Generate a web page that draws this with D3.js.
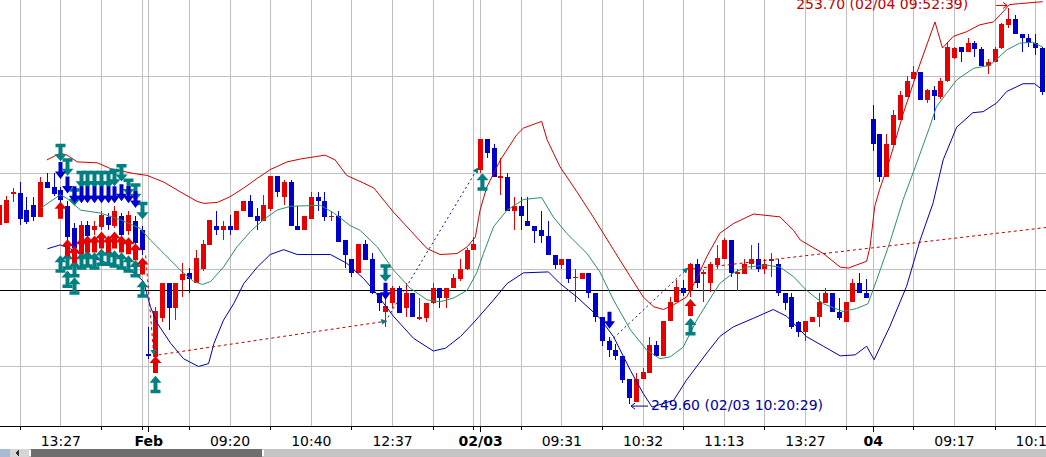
<!DOCTYPE html>
<html>
<head>
<meta charset="utf-8">
<script src="https://cdn.jsdelivr.net/npm/d3@7"></script>
<style>
    body { margin: 0; background: #fff; overflow: hidden; }
    svg { display: block; font-family: "DejaVu Sans", sans-serif; }
</style>
</head>
<body>
<div id="main-container"></div>
<script>
// Candles, one entry per bar (bar 0 is partly off the left edge)
const OPENS = [
    251.46, 251.48, 251.78, 251.79, 251.61, 251.66, 251.54, 251.90, 251.85, 251.82,
    251.65, 251.42, 251.22, 251.46, 251.40, 251.44, 251.54, 251.45, 251.55, 251.39,
    251.50, 251.40, 250.12, 250.09, 250.49, 250.85, 250.60, 250.89, 250.96, 250.85,
    251.00, 251.25, 251.45, 251.40, 251.45, 251.40, 251.60, 251.70, 251.55, 251.50,
    251.62, 251.96, 251.75, 251.90, 251.45, 251.40, 251.52, 251.75, 251.70, 251.54,
    251.55, 251.30, 251.10, 250.96, 251.26, 251.10, 250.75, 250.55, 250.65, 250.80,
    250.60, 250.75, 250.48, 250.49, 250.65, 250.80, 250.70, 250.80, 250.90, 251.00,
    251.20, 252.03, 252.35, 252.25, 251.95, 251.95, 251.60, 251.65, 251.50, 251.45,
    251.40, 251.34, 251.15, 251.04, 251.10, 250.91, 250.90, 250.96, 250.75, 250.50,
    250.25, 250.16, 250.10, 249.86, 249.62, 249.86, 249.92, 250.21, 250.10, 250.46,
    250.66, 250.80, 250.78, 251.05, 250.95, 250.85, 251.04, 251.10, 251.30, 250.95,
    250.95, 251.05, 251.10, 251.00, 251.08, 251.05, 250.75, 250.71, 250.45, 250.35,
    250.45, 250.50, 250.65, 250.75, 250.55, 250.45, 250.66, 250.86, 250.75, 252.55,
    252.40, 251.95, 252.28, 252.54, 252.78, 252.97, 253.04, 252.75, 252.85, 252.78,
    252.95, 253.19, 253.30, 253.25, 253.34, 253.28, 253.10, 253.15, 253.29, 253.53,
    253.59, 253.44, 253.39, 253.34, 253.29
];
const HIGHS = [
    251.70, 251.76, 251.84, 251.90, 251.75, 251.75, 251.95, 252.00, 252.00, 251.85,
    251.70, 251.48, 251.50, 251.50, 251.50, 251.60, 251.58, 251.65, 251.58, 251.60,
    251.55, 251.45, 250.40, 250.61, 250.85, 250.85, 250.85, 251.06, 251.01, 251.20,
    251.30, 251.51, 251.60, 251.50, 251.56, 251.60, 251.70, 251.77, 251.63, 251.77,
    251.96, 251.96, 251.92, 251.92, 251.65, 251.55, 251.80, 251.80, 251.80, 251.60,
    251.60, 251.30, 251.10, 251.26, 251.30, 251.17, 250.75, 250.70, 250.82, 250.82,
    250.85, 250.75, 250.70, 250.65, 250.85, 250.80, 250.80, 250.95, 251.10, 251.22,
    251.33, 252.35, 252.35, 252.30, 252.15, 252.00, 251.75, 251.75, 251.75, 251.45,
    251.60, 251.50, 251.15, 251.10, 251.10, 251.00, 250.96, 250.96, 250.75, 250.50,
    250.30, 250.22, 250.10, 249.86, 249.92, 249.97, 250.30, 250.25, 250.46, 250.71,
    250.89, 250.89, 251.06, 251.10, 250.99, 251.07, 251.25, 251.32, 251.30, 251.00,
    251.10, 251.25, 251.27, 251.10, 251.17, 251.10, 250.75, 250.75, 250.46, 250.46,
    250.50, 250.75, 250.80, 250.75, 250.70, 250.66, 250.90, 250.96, 250.90, 252.70,
    252.40, 252.40, 252.65, 252.84, 253.00, 253.10, 253.04, 252.87, 252.90, 252.98,
    253.35, 253.30, 253.30, 253.39, 253.36, 253.30, 253.18, 253.30, 253.55, 253.70,
    253.63, 253.44, 253.44, 253.44, 253.30
];
const LOWS = [
    251.40, 251.48, 251.69, 251.46, 251.47, 251.50, 251.54, 251.84, 251.76, 251.65,
    251.30, 251.18, 251.18, 251.30, 251.35, 251.40, 251.40, 251.42, 251.30, 251.35,
    251.22, 251.15, 250.07, 250.09, 250.45, 250.37, 250.47, 250.71, 250.75, 250.85,
    250.98, 251.25, 251.35, 251.30, 251.35, 251.40, 251.60, 251.54, 251.40, 251.50,
    251.60, 251.75, 251.66, 251.45, 251.40, 251.40, 251.52, 251.60, 251.50, 251.50,
    251.28, 251.01, 250.92, 250.96, 251.09, 250.74, 250.56, 250.40, 250.60, 250.54,
    250.50, 250.50, 250.47, 250.45, 250.64, 250.60, 250.60, 250.80, 250.88, 250.99,
    251.20, 252.00, 252.15, 251.95, 251.77, 251.60, 251.40, 251.40, 251.45, 251.27,
    251.27, 251.14, 251.00, 251.00, 250.85, 250.66, 250.90, 250.70, 250.45, 250.20,
    250.09, 250.06, 249.82, 249.60, 249.62, 249.86, 249.92, 250.10, 250.10, 250.46,
    250.66, 250.72, 250.71, 250.80, 250.66, 250.76, 251.00, 251.10, 250.92, 250.77,
    250.95, 251.00, 250.97, 250.95, 250.92, 250.72, 250.57, 250.38, 250.30, 250.25,
    250.45, 250.40, 250.65, 250.55, 250.47, 250.45, 250.66, 250.75, 250.70, 252.22,
    251.90, 251.95, 252.28, 252.54, 252.78, 252.97, 252.75, 252.72, 252.54, 252.76,
    252.94, 253.18, 253.15, 253.25, 253.20, 253.10, 253.02, 253.14, 253.28, 253.50,
    253.44, 253.25, 253.30, 253.22, 252.80
];
const CLOSES = [
    251.66, 251.71, 251.80, 251.52, 251.49, 251.54, 251.90, 251.84, 251.78, 251.72,
    251.33, 251.22, 251.46, 251.34, 251.45, 251.56, 251.46, 251.60, 251.35, 251.56,
    251.27, 251.20, 250.10, 250.56, 250.85, 250.60, 250.85, 250.95, 250.90, 251.11,
    251.26, 251.51, 251.40, 251.45, 251.40, 251.60, 251.70, 251.54, 251.50, 251.66,
    251.96, 251.80, 251.90, 251.45, 251.40, 251.55, 251.75, 251.70, 251.54, 251.55,
    251.28, 251.15, 250.96, 251.26, 251.09, 250.75, 250.65, 250.62, 250.80, 250.54,
    250.75, 250.50, 250.50, 250.65, 250.80, 250.70, 250.80, 250.91, 251.00, 251.20,
    251.26, 252.35, 252.20, 251.95, 251.96, 251.60, 251.65, 251.55, 251.45, 251.39,
    251.34, 251.14, 251.04, 251.10, 250.90, 250.92, 250.96, 250.75, 250.50, 250.25,
    250.16, 250.10, 249.85, 249.66, 249.86, 249.93, 250.21, 250.10, 250.46, 250.66,
    250.81, 250.75, 251.05, 250.85, 250.97, 251.05, 251.11, 251.30, 250.96, 250.97,
    251.05, 251.10, 251.00, 251.05, 251.10, 250.75, 250.65, 250.40, 250.35, 250.46,
    250.50, 250.66, 250.75, 250.55, 250.49, 250.66, 250.86, 250.75, 250.70, 252.30,
    251.95, 252.30, 252.60, 252.80, 252.95, 253.04, 252.75, 252.85, 252.79, 252.95,
    253.30, 253.29, 253.25, 253.34, 253.28, 253.10, 253.15, 253.28, 253.54, 253.59,
    253.44, 253.39, 253.34, 253.29, 252.83
];

// Bands as [bar, price]
const UPPER_BAND = [[7,252.13],[9,252.20],[10,252.18],[11.5,252.11],[14.5,252.10],[16.4,252.04],[19.8,251.99],[21.8,251.97],[24.3,251.90],[26.7,251.80],[29.2,251.70],[30.2,251.68],[32.2,251.69],[34.1,251.75],[36.1,251.84],[38.1,251.94],[40,252.03],[42.5,252.11],[44.5,252.14],[48.1,252.18],[49.6,252.13],[51.3,251.97],[53.8,251.89],[55.3,251.84],[58.2,251.59],[60.7,251.40],[63.2,251.21],[65.1,251.15],[67.6,251.16],[69.1,251.23],[70.3,251.33],[71,251.61],[72,251.85],[74,252.13],[76.4,252.39],[77.4,252.46],[80.1,252.53],[80.9,252.34],[82.8,252.06],[85.3,251.80],[87.7,251.54],[90.7,251.20],[93.2,250.92],[95.1,250.71],[96.6,250.61],[98.1,250.58],[99.6,250.63],[101.5,250.71],[103,250.90],[104.5,251.13],[106.4,251.37],[108.4,251.47],[111.4,251.57],[115.3,251.54],[117.3,251.40],[118.3,251.30],[121.7,251.16],[124.2,251.02],[125.4,251.01],[128.1,251.08],[128.6,251.23],[129.3,251.65],[130,251.82],[131.5,252.13],[133.5,252.61],[135.5,253.03],[138.2,253.56],[139.3,253.29],[140.9,253.41],[142.9,253.46],[144.8,253.53],[146.8,253.56],[147.8,253.63],[149.2,253.74],[150.7,253.75],[154.1,253.77]];
const MID_BAND = [[6.1,251.63],[9,251.77],[10,251.73],[12,251.61],[14.9,251.58],[17.9,251.51],[20.8,251.42],[22.3,251.30],[24.3,251.16],[26.7,250.99],[28.7,250.87],[30,250.84],[31.2,250.87],[33.1,251.02],[35.1,251.23],[37.1,251.39],[39,251.51],[41,251.61],[43,251.65],[47.4,251.66],[49.4,251.58],[51.8,251.45],[53.3,251.40],[55.8,251.23],[58.2,250.99],[60.7,250.80],[63.2,250.68],[65.1,250.66],[67.1,250.70],[69.1,250.78],[70.5,250.96],[71.5,251.16],[73,251.44],[75,251.61],[77.4,251.72],[80.1,251.74],[81.8,251.54],[83.8,251.37],[86.8,251.16],[88.7,250.97],[90.7,250.68],[93.2,250.37],[95.6,250.16],[97.6,250.07],[99.1,250.09],[101,250.19],[103,250.47],[104.5,250.64],[106.4,250.85],[108.4,250.96],[110.4,251.02],[113.3,251.04],[115.3,251.02],[117.3,250.92],[119.2,250.78],[121.7,250.64],[124.6,250.56],[126.6,250.59],[128.3,250.64],[129.6,250.89],[131.5,251.27],[133.5,251.72],[135.5,252.10],[137.4,252.47],[138.4,252.68],[139.9,252.82],[141.4,252.96],[143.9,253.08],[146.3,253.11],[148.8,253.27],[150.7,253.34],[152.6,253.35],[154.1,253.30]];
const LOWER_BAND = [[7.1,251.21],[9,251.25],[10.5,251.21],[12,251.15],[14.9,251.09],[17.9,251.01],[19.9,250.96],[21.3,250.87],[22.3,250.61],[23.3,250.44],[25.3,250.23],[27.2,250.07],[29.4,249.99],[30.9,250.02],[31.7,250.23],[33.1,250.47],[34.6,250.64],[36.1,250.85],[38.1,251.02],[40,251.15],[42,251.20],[44,251.15],[48.9,251.15],[51.3,251.06],[53.8,250.90],[55.3,250.78],[58.2,250.51],[61.2,250.28],[64.1,250.15],[65.9,250.18],[68.1,250.30],[70,250.44],[73,250.68],[75,250.85],[77.4,250.96],[81.1,250.97],[82.8,250.85],[85.3,250.71],[88.7,250.49],[90.7,250.30],[93.2,249.95],[95.1,249.71],[96.4,249.57],[99.6,249.64],[101.5,249.85],[104.5,250.13],[106.4,250.30],[108.4,250.40],[111.4,250.49],[114.3,250.58],[116.3,250.51],[119.2,250.30],[121.7,250.20],[124.2,250.10],[126.4,250.11],[128.1,250.20],[129.2,250.06],[131.5,250.40],[134,250.82],[136,251.30],[137.9,251.68],[139.4,252.13],[141.4,252.47],[143.8,252.62],[145.3,252.63],[147.3,252.72],[148.8,252.84],[151.2,252.92],[152.9,252.92],[154.4,252.84]];

// Signals as [bar, price]
const BUY_ARROWS = [[9,251.61],[10,251.22],[11,251.15],[12,251.24],[13,251.26],[14,251.26],[15,251.30],[16,251.26],[17,251.30],[18,251.26],[19,251.24],[20,251.18],[21,251.03],[23,250.01],[102,250.60]];
const SELL_ARROWS = [[9,252.02],[10,251.87],[11,251.77],[12,251.77],[13,251.77],[14,251.77],[15,251.77],[16,251.77],[17,251.77],[18,251.79],[19,251.77],[20,251.72],[57,250.77],[90,250.47]];
const EXIT_LONG_ARROWS = [[9,252.21],[10,252.06],[11,251.75],[12,251.93],[13,251.93],[14,251.93],[15,251.93],[16,251.93],[17,251.95],[18,252.00],[19,251.85],[20,251.80],[21,251.61],[57,250.96]];
const EXIT_SHORT_ARROWS = [[9,251.05],[10,251.08],[10,250.89],[11,251.00],[11,250.82],[12,251.08],[13,251.10],[14,251.08],[15,251.12],[16,251.12],[17,251.10],[18,251.08],[19,251.05],[20,251.00],[21,250.79],[23,249.80],[71.3,251.90],[102,250.40]];

// Trade links [[bar, price], [bar, price]]
const LONG_TRADES = [[[21.6,251.14],[22.8,250.11]], [[23.5,250.11],[57.2,250.46]]];
const SHORT_TRADES = [[[57.4,250.50],[70.7,252.05]], [[90.2,250.25],[101.7,251.01]]];
const OPEN_TRADE = [[102.3,251.00],[154.6,251.43]];

// Axis
const TICK_BARS = [9, 22, 34, 46, 58, 71, 83, 95, 107, 119, 129, 141, 153];
const TICK_LABELS = ['13:27', 'Feb', '09:20', '10:40', '12:37', '02/03', '09:31', '10:32', '11:13', '13:27', '04', '09:17', '10:18'];
const DAY_BARS = [22, 71, 129];
const MINOR_BARS = [3, 15, 21, 28, 40, 52, 64, 70, 77, 89, 101, 113, 125, 135, 147];
const GRID_PRICES = [250, 251, 252, 253];
const REF_PRICE = 250.78;

const HIGH_MARK = { bar: 149, price: 253.70, label: '253.70 (02/04 09:52:39)' };
const LOW_MARK = { bar: 93, price: 249.60, label: '249.60 (02/03 10:20:29)' };

// Layout
const SVG_WIDTH = 1046;
const SVG_HEIGHT = 457;
const AXIS_Y = 426;
const BAR_STEP = 6.77;

const RED = '#e60000';
const BLUE = '#0000cc';
const TEAL = '#008080';
const GRID = '#c0c0c0';

const X = d3.scaleLinear().domain([0, 154]).range([-0.6, -0.6 + BAR_STEP * 154]);
const Y = d3.scaleLinear().domain([250, 253]).range([365.5, 76]);
const px = v => Math.round(v) + 0.5;

const SVG = d3.select('#main-container').append('svg')
    .attr('width', SVG_WIDTH)
    .attr('height', SVG_HEIGHT);

const defs = SVG.append('defs');
defs.append('marker')
    .attr('id', 'tip')
    .attr('viewBox', '0 0 10 10')
    .attr('refX', 9).attr('refY', 5)
    .attr('markerWidth', 6).attr('markerHeight', 6)
    .attr('markerUnits', 'userSpaceOnUse')
    .attr('orient', 'auto')
    .append('path')
    .attr('d', 'M0,0 L10,5 L0,10 Z')
    .attr('fill', TEAL);

// Grid
const GRID_G = SVG.append('g').attr('shape-rendering', 'crispEdges');
GRID_G.selectAll('line.v')
    .data([...MINOR_BARS, ...TICK_BARS])
    .join('line')
    .attr('class', 'v')
    .attr('x1', d => px(X(d))).attr('x2', d => px(X(d)))
    .attr('y1', 0).attr('y2', AXIS_Y)
    .attr('stroke', GRID);
GRID_G.selectAll('line.h')
    .data(GRID_PRICES)
    .join('line')
    .attr('class', 'h')
    .attr('x1', 0).attr('x2', SVG_WIDTH)
    .attr('y1', d => px(Y(d))).attr('y2', d => px(Y(d)))
    .attr('stroke', GRID);
GRID_G.append('line')
    .attr('x1', 0).attr('x2', SVG_WIDTH)
    .attr('y1', px(Y(REF_PRICE))).attr('y2', px(Y(REF_PRICE)))
    .attr('stroke', '#000');

// Candles
const BARS = OPENS.map((o, i) => ({ i, o, h: HIGHS[i], l: LOWS[i], c: CLOSES[i] }));
const CANDLE = SVG.append('g')
    .attr('shape-rendering', 'crispEdges')
    .selectAll('g')
    .data(BARS)
    .join('g');

CANDLE.append('line')
    .attr('x1', d => Math.round(X(d.i)) + 0.5)
    .attr('x2', d => Math.round(X(d.i)) + 0.5)
    .attr('y1', d => Y(d.h))
    .attr('y2', d => Y(d.l))
    .attr('stroke', d => d.c >= d.o ? RED : BLUE);

CANDLE.append('rect')
    .attr('x', d => Math.round(X(d.i)) - 2)
    .attr('width', 5)
    .attr('y', d => Y(Math.max(d.o, d.c)))
    .attr('height', d => Math.max(1.5, Math.abs(Y(d.o) - Y(d.c))))
    .attr('fill', d => d.c >= d.o ? RED : BLUE);

// Bands
const LINE = d3.line().x(d => X(d[0])).y(d => Y(d[1]));
[[UPPER_BAND, '#d00000'], [MID_BAND, '#2f8f62'], [LOWER_BAND, '#0000b4']].forEach(([pts, col]) => {
    SVG.append('path')
        .attr('d', LINE(pts))
        .attr('fill', 'none')
        .attr('stroke', col)
        .attr('stroke-width', 1);
});

// Trade links
const TRADES = SVG.append('g').attr('fill', 'none');
LONG_TRADES.forEach(t => {
    TRADES.append('path').attr('d', LINE(t))
        .attr('stroke', '#c00000').attr('stroke-dasharray', '3,3')
        .attr('marker-end', 'url(#tip)');
});
SHORT_TRADES.forEach(t => {
    TRADES.append('path').attr('d', LINE(t))
        .attr('stroke', '#101080').attr('stroke-dasharray', '2,3')
        .attr('marker-end', 'url(#tip)');
});
TRADES.append('path').attr('d', LINE(OPEN_TRADE))
    .attr('stroke', '#c00000').attr('stroke-dasharray', '3,3');

// Signal arrows
const SHAPES = {
    buy: 'M0,-8.5 L6,-1.5 L2.5,-1.5 L2.5,8.5 L-2.5,8.5 L-2.5,-1.5 L-6,-1.5 Z',
    sell: 'M0,8.5 L5.5,1 L2,1 L2,-8.5 L-2,-8.5 L-2,1 L-5.5,1 Z',
    exitShort: 'M0,-9 L6,-2 L2,-2 L2,5 L5,5 L5,8.5 L-5,8.5 L-5,5 L-2,5 L-2,-2 L-6,-2 Z',
    exitLong: 'M0,9 L6,2 L2,2 L2,-5 L5,-5 L5,-8.5 L-5,-8.5 L-5,-5 L-2,-5 L-2,2 L-6,2 Z'
};
const ARROWS = SVG.append('g');
function drawArrows(list, shape, color) {
    ARROWS.append('g').selectAll('path')
        .data(list)
        .join('path')
        .attr('transform', d => `translate(${Math.round(X(d[0])) + 0.5}, ${Y(d[1])})`)
        .attr('d', SHAPES[shape])
        .attr('fill', color);
}
drawArrows(EXIT_SHORT_ARROWS, 'exitShort', TEAL);
drawArrows(BUY_ARROWS, 'buy', RED);
drawArrows(EXIT_LONG_ARROWS, 'exitLong', TEAL);
drawArrows(SELL_ARROWS, 'sell', BLUE);

// High / low labels
const hx = X(HIGH_MARK.bar), hy = Y(HIGH_MARK.price);
SVG.append('path')
    .attr('d', `M${hx - 12},${hy - 3} L${hx - 1},${hy - 3} M${hx - 5},${hy - 6} L${hx - 1},${hy - 3} L${hx - 5},${hy}`)
    .attr('stroke', '#c00000').attr('fill', 'none');
SVG.append('text')
    .attr('x', hx - 212).attr('y', hy + 0.5)
    .attr('fill', '#c00000')
    .style('font-size', '14px')
    .text(HIGH_MARK.label);

const lx = X(LOW_MARK.bar), ly = Y(LOW_MARK.price);
SVG.append('path')
    .attr('d', `M${lx + 2},${ly + 2} L${lx + 19},${ly + 2} M${lx + 6},${ly - 1} L${lx + 2},${ly + 2} L${lx + 6},${ly + 5}`)
    .attr('stroke', '#0000a0').attr('fill', 'none');
SVG.append('text')
    .attr('x', lx + 22).attr('y', ly + 6)
    .attr('fill', '#0000a0')
    .style('font-size', '14px')
    .text(LOW_MARK.label);

// Time axis
SVG.append('rect')
    .attr('x', 0).attr('y', AXIS_Y + 1)
    .attr('width', SVG_WIDTH).attr('height', SVG_HEIGHT - AXIS_Y)
    .attr('fill', '#fff');
SVG.append('line')
    .attr('x1', 0).attr('x2', SVG_WIDTH)
    .attr('y1', AXIS_Y + 0.5).attr('y2', AXIS_Y + 0.5)
    .attr('stroke', '#000')
    .attr('shape-rendering', 'crispEdges');
SVG.append('g')
    .attr('shape-rendering', 'crispEdges')
    .selectAll('line')
    .data([...MINOR_BARS.map(b => [b, 4]), ...DAY_BARS.map(b => [b, 6])])
    .join('line')
    .attr('x1', d => px(X(d[0]))).attr('x2', d => px(X(d[0])))
    .attr('y1', AXIS_Y).attr('y2', d => AXIS_Y + d[1])
    .attr('stroke', '#000');

const AXIS = SVG.append('g')
    .attr('transform', `translate(0, ${AXIS_Y})`)
    .call(d3.axisBottom(X)
        .tickValues(TICK_BARS)
        .tickFormat((d, i) => TICK_LABELS[i])
        .tickSize(0)
        .tickPadding(10));
AXIS.select('.domain').remove();
AXIS.selectAll('text')
    .style('font-family', '"DejaVu Sans", sans-serif')
    .style('font-size', '14px')
    .style('font-weight', d => DAY_BARS.includes(d) ? 'bold' : 'normal')
    .attr('fill', '#000');

// Scroll strip
const STRIP = SVG.append('g').attr('shape-rendering', 'crispEdges');
STRIP.append('rect').attr('x', 0).attr('y', 449).attr('width', SVG_WIDTH).attr('height', 8).attr('fill', '#c4c4c4');
STRIP.append('rect').attr('x', 0).attr('y', 449).attr('width', 10).attr('height', 8).attr('fill', '#a9bad6');
STRIP.append('rect').attr('x', 10).attr('y', 449).attr('width', 19).attr('height', 8).attr('fill', '#d6d6d6');
STRIP.append('path').attr('d', 'M15,453 L19,450 L19,456 Z').attr('fill', '#303030');
STRIP.append('rect').attr('x', 31).attr('y', 449).attr('width', 231).attr('height', 8).attr('fill', '#6e6e6e');
STRIP.append('rect').attr('x', 29).attr('y', 450).attr('width', 2).attr('height', 6).attr('fill', '#fff');
STRIP.append('rect').attr('x', 262).attr('y', 450).attr('width', 2).attr('height', 6).attr('fill', '#fff');
</script>
</body>
</html>
